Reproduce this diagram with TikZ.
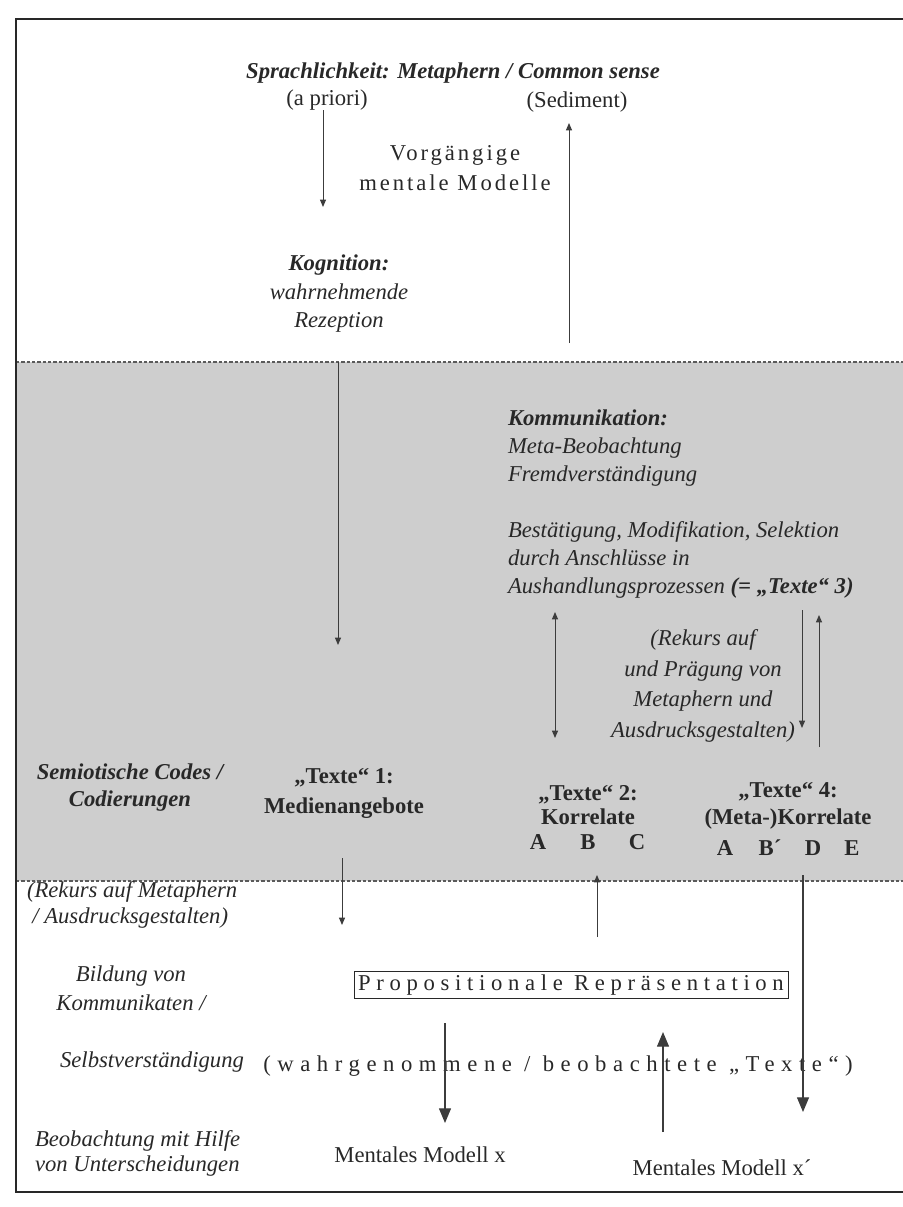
\documentclass[tikz,border=0pt]{standalone}
\usepackage{fontspec}
\setmainfont{Liberation Serif}
\newfontfamily\lsA[LetterSpace=13]{Liberation Serif}
\newfontfamily\lsB[LetterSpace=25]{Liberation Serif}
\newfontfamily\lsC[LetterSpace=29]{Liberation Serif}
\usetikzlibrary{arrows.meta}
\definecolor{bandgray}{RGB}{206,206,206}
\definecolor{ink}{RGB}{40,40,40}
\definecolor{arr}{RGB}{60,60,60}
\definecolor{dashc}{RGB}{90,90,90}
\tikzset{
  lbl/.style={inner sep=0pt, outer sep=0pt, text=ink, align=center},
  arw/.style={draw=arr, line width=0.75pt, -{Triangle[length=5.5pt,width=4.5pt]}},
  darw/.style={draw=arr, line width=0.75pt, {Triangle[length=5.5pt,width=4.5pt]}-{Triangle[length=5.5pt,width=4.5pt]}},
  barw/.style={draw=arr, line width=0.9pt, -{Triangle[length=11pt,width=9pt]}},
  sep/.style={draw=dashc, line width=0.8pt, dash pattern=on 2.5pt off 1.5pt},
  framel/.style={draw=ink, line width=1.8pt},
  propbox/.style={draw=ink, line width=0.6pt, inner sep=0pt, minimum width=325.5pt, minimum height=20.5pt, text=ink}
}
\begin{document}
\begin{tikzpicture}[x=0.75pt,y=-0.75pt]
\useasboundingbox (0,0) rectangle (903,1207);
% grey band and separators
\fill[bandgray] (16,362) rectangle (903,881);
\draw[sep] (16,362) -- (903,362);
\draw[sep] (16,881) -- (903,881);
% frame
\draw[framel] (903,19) -- (16,19) -- (16,1192) -- (903,1192);

% ---- texts ----
\node[lbl, font=\fontsize{17}{21}\selectfont\bfseries\itshape] (spr) at (453,73) {Sprachlichkeit: Metaphern / Common sense};
\node[lbl, font=\fontsize{17}{21}\selectfont] (apr) at (327,100) {(a priori)};
\node[lbl, font=\fontsize{17}{21}\selectfont] (sed) at (577,102) {(Sediment)};
\node[lbl, font=\fontsize{17}{22.5}\selectfont\lsA] (vor) at (455,168) {Vorgängige\\mentale Modelle};
\node[lbl, font=\fontsize{17}{21.4}\selectfont\itshape] (kog) at (339,294) {{\bfseries Kognition:}\\wahrnehmende\\Rezeption};
\node[lbl, align=left, anchor=west, font=\fontsize{17}{21}\selectfont\itshape] (kom) at (508,504)
  {{\bfseries Kommunikation:}\\Meta-Beobachtung\\Fremdverständigung\\[21pt]Bestätigung, Modifikation, Selektion\\durch Anschlüsse in\\Aushandlungsprozessen {\bfseries (= „Texte“ 3)}};
\node[lbl, font=\fontsize{17}{23}\selectfont\itshape] (rek) at (703,686) {(Rekurs auf\\und Prägung von\\Metaphern und\\Ausdrucksgestalten)};

\node[lbl, font=\fontsize{17}{20.3}\selectfont\bfseries\itshape] (sem) at (130,788) {Semiotische Codes /\\Codierungen};
\node[lbl, font=\fontsize{17}{22.5}\selectfont\bfseries] (t1) at (344,793) {„Texte“ 1:\\Medienangebote};
\node[lbl, font=\fontsize{17}{18.4}\selectfont\bfseries] (t2) at (588,805) {„Texte“ 2:\\Korrelate};
\node[lbl, font=\fontsize{17}{20.3}\selectfont\bfseries] (t4) at (788,806) {„Texte“ 4:\\(Meta-)Korrelate};
\node[lbl, font=\fontsize{17}{20}\selectfont\bfseries] (ka) at (538,842) {A};
\node[lbl, font=\fontsize{17}{20}\selectfont\bfseries] (kb) at (588,842) {B};
\node[lbl, font=\fontsize{17}{20}\selectfont\bfseries] (kc) at (637,842) {C};
\node[lbl, font=\fontsize{17}{20}\selectfont\bfseries] (ma) at (725,848) {A};
\node[lbl, font=\fontsize{17}{20}\selectfont\bfseries] (mb) at (770,848) {B´};
\node[lbl, font=\fontsize{17}{20}\selectfont\bfseries] (md) at (813,848) {D};
\node[lbl, font=\fontsize{17}{20}\selectfont\bfseries] (me) at (852,848) {E};

\node[lbl, align=left, anchor=west, font=\fontsize{17}{19.5}\selectfont\itshape] (rkl) at (27,905) {(Rekurs auf Metaphern\\\hspace{4pt}/ Ausdrucksgestalten)};
\node[lbl, font=\fontsize{17}{21.8}\selectfont\itshape] (bil) at (131,988) {Bildung von\\Kommunikaten /};
\node[propbox, font=\fontsize{17}{20}\selectfont\lsB] (prop) at (571,985) {Propositionale Repräsentation};
\node[lbl, font=\fontsize{17}{20}\selectfont\itshape] (selb) at (152,1062) {Selbstverständigung};
\node[lbl, font=\fontsize{17}{20}\selectfont\lsC] (wahr) at (558,1066) {(wahrgenommene / beobachtete „Texte“)};
\node[lbl, align=left, anchor=west, font=\fontsize{17}{18.8}\selectfont\itshape] (beo) at (35,1153) {Beobachtung mit Hilfe\\von Unterscheidungen};
\node[lbl, font=\fontsize{17}{20}\selectfont] (mmx) at (420,1155) {Mentales Modell x};
\node[lbl, font=\fontsize{17}{20}\selectfont] (mmy) at (722,1168) {Mentales Modell x´};

% ---- arrow end points ----
\coordinate (a1s) at (323,110);  \coordinate (a1e) at (323,207);
\coordinate (a2s) at (569,343);  \coordinate (a2e) at (569,123);
\coordinate (a3s) at (338,362);  \coordinate (a3e) at (338,645);
\coordinate (a4s) at (555,612);  \coordinate (a4e) at (555,738);
\coordinate (a5s) at (802,610);  \coordinate (a5e) at (802,728);
\coordinate (a6s) at (819,747);  \coordinate (a6e) at (819,615);
\coordinate (a7s) at (342,858);  \coordinate (a7e) at (342,925);
\coordinate (a8s) at (597,937);  \coordinate (a8e) at (597,875);
\coordinate (a9s) at (803,875);  \coordinate (a9e) at (803,1112);
\coordinate (a10s) at (445,1023); \coordinate (a10e) at (445,1123);
\coordinate (a11s) at (663,1132); \coordinate (a11e) at (663,1032);

\draw[arw] (a1s) -- (a1e);
\draw[arw] (a2s) -- (a2e);
\draw[arw] (a3s) -- (a3e);
\draw[darw] (a4s) -- (a4e);
\draw[arw] (a5s) -- (a5e);
\draw[arw] (a6s) -- (a6e);
\draw[arw] (a7s) -- (a7e);
\draw[arw] (a8s) -- (a8e);
\draw[barw] (a9s) -- (a9e);
\draw[barw] (a10s) -- (a10e);
\draw[barw] (a11s) -- (a11e);
\end{tikzpicture}
\end{document}
